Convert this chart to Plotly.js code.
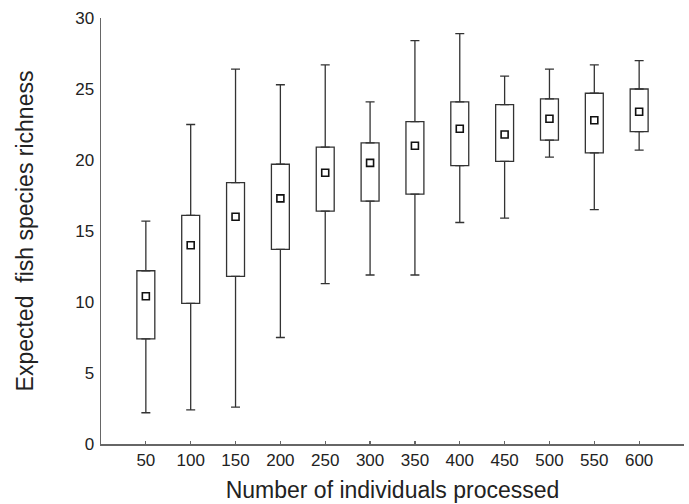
<!DOCTYPE html>
<html>
<head>
<meta charset="utf-8">
<script src="https://cdn.plot.ly/plotly-3.0.1.min.js"></script>
<style>
  html, body { margin: 0; padding: 0; background: #fff; }
  #chart { width: 689px; height: 504px; }
</style>
</head>
<body>
<div id="chart"></div>
<script>
// Number of individuals processed (x categories)
const categories = [50, 100, 150, 200, 250, 300, 350, 400, 450, 500, 550, 600];
// Expected fish species richness: whisker max, box top, centre marker, box bottom, whisker min
const maxV  = [15.7, 22.5, 26.4, 25.3, 26.7, 24.1, 28.4, 28.9, 25.9, 26.4, 26.7, 27.0];
const boxHi = [12.2, 16.1, 18.4, 19.7, 20.9, 21.2, 22.7, 24.1, 23.9, 24.3, 24.7, 25.0];
const meanV = [10.4, 14.0, 16.0, 17.3, 19.1, 19.8, 21.0, 22.2, 21.8, 22.9, 22.8, 23.4];
const boxLo = [7.4, 9.9, 11.8, 13.7, 16.4, 17.1, 17.6, 19.6, 19.9, 21.4, 20.5, 22.0];
const minV  = [2.2, 2.4, 2.6, 7.5, 11.3, 11.9, 11.9, 15.6, 15.9, 20.2, 16.5, 20.7];
const tickLabels = ['50', '100', '150', '200', '250', '300', '350', '400', '450', '500', '550', '600'];

const lineCol = '#333333';
const axisCol = '#666666';
const textCol = '#222222';
const fontFam = 'Liberation Sans, Arial, Helvetica, sans-serif';

const boxTrace = {
  type: 'bar',
  x: categories,
  base: boxLo,
  y: boxHi.map((v, i) => v - boxLo[i]),
  width: 20,
  marker: { color: '#ffffff', line: { color: lineCol, width: 1.3 } },
  hoverinfo: 'skip',
  showlegend: false
};

const upperWhisker = {
  type: 'scatter',
  mode: 'markers',
  x: categories,
  y: boxHi,
  marker: { size: 1, opacity: 0 },
  error_y: {
    type: 'data', symmetric: false,
    array: maxV.map((v, i) => v - boxHi[i]),
    arrayminus: boxHi.map(() => 0),
    color: lineCol, thickness: 1.3, width: 4.5
  },
  hoverinfo: 'skip',
  showlegend: false
};

const lowerWhisker = {
  type: 'scatter',
  mode: 'markers',
  x: categories,
  y: boxLo,
  marker: { size: 1, opacity: 0 },
  error_y: {
    type: 'data', symmetric: false,
    array: boxLo.map(() => 0),
    arrayminus: boxLo.map((v, i) => v - minV[i]),
    color: lineCol, thickness: 1.3, width: 4.5
  },
  hoverinfo: 'skip',
  showlegend: false
};

const meanTrace = {
  type: 'scatter',
  mode: 'markers',
  x: categories,
  y: meanV,
  marker: { symbol: 'square-open', size: 7, color: '#111111', line: { width: 1.6, color: '#111111' } },
  hoverinfo: 'skip',
  showlegend: false
};

const layout = {
  width: 689,
  height: 504,
  margin: { l: 101, r: 5, t: 18, b: 60, pad: 0 },
  paper_bgcolor: '#ffffff',
  plot_bgcolor: '#ffffff',
  showlegend: false,
  hovermode: false,
  font: { family: fontFam, color: textCol, size: 17 },
  xaxis: {
    range: [0, 650],
    tickmode: 'array',
    tickvals: categories.concat([650]),
    ticktext: tickLabels.concat(['']),
    ticks: 'inside',
    ticklen: 3,
    tickwidth: 1.2,
    tickcolor: axisCol,
    showline: true,
    linecolor: axisCol,
    linewidth: 1.5,
    showgrid: false,
    zeroline: false,
    tickfont: { size: 17, color: textCol, family: fontFam },
    ticklabelstandoff: 0,
    title: { text: 'Number of individuals processed', font: { size: 23, color: textCol, family: fontFam }, standoff: 13 },
    automargin: false
  },
  yaxis: {
    range: [0, 30],
    tickmode: 'linear',
    tick0: 0,
    dtick: 5,
    ticks: '',
    showline: true,
    linecolor: axisCol,
    linewidth: 1.5,
    showgrid: false,
    zeroline: false,
    tickfont: { size: 17, color: textCol, family: fontFam },
    ticklabelstandoff: 2,
    title: { text: 'Expected\u00a0 fish species richness', font: { size: 23, color: textCol, family: fontFam }, standoff: 35 },
    automargin: false
  }
};

Plotly.newPlot('chart', [boxTrace, upperWhisker, lowerWhisker, meanTrace], layout, { displayModeBar: false, staticPlot: true });
</script>
</body>
</html>
